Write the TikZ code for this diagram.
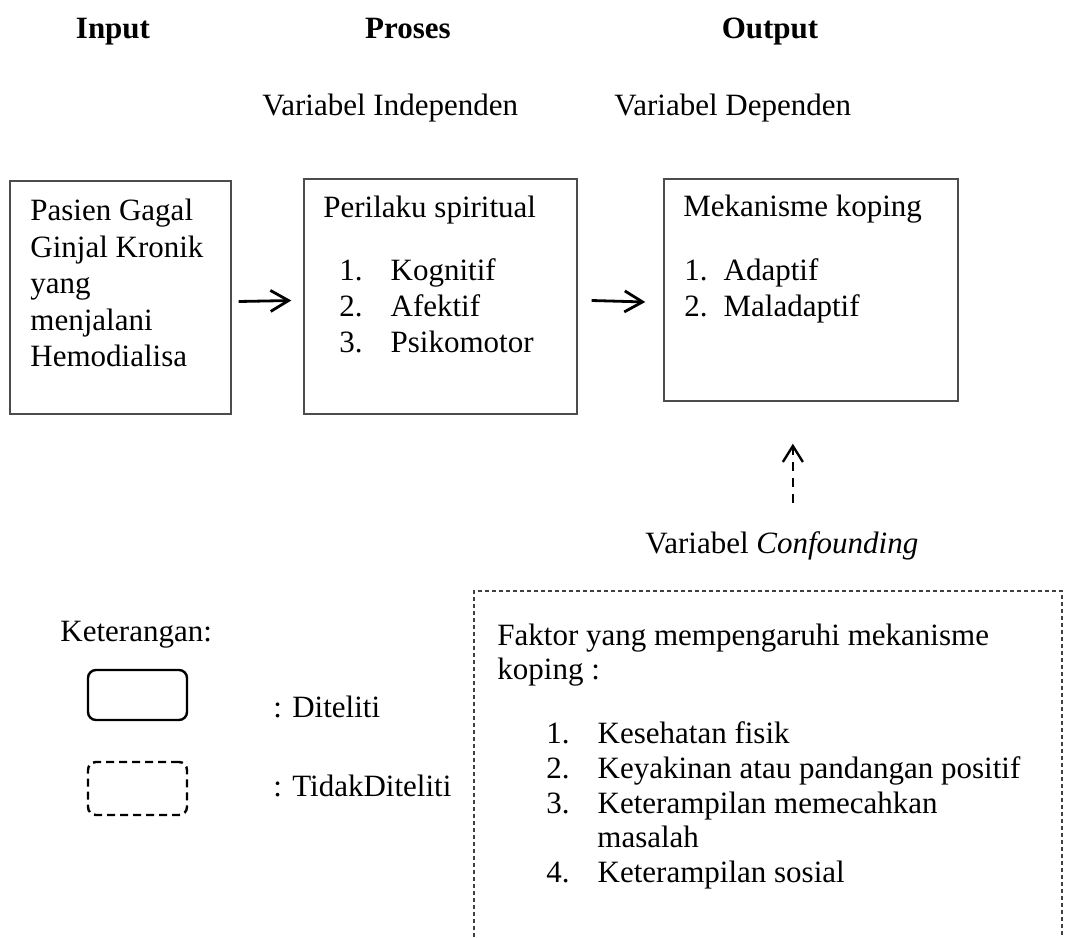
\documentclass[tikz,border=0pt]{standalone}
\usepackage{fontspec}
\setmainfont{Liberation Serif}
\usetikzlibrary{arrows.meta}
\begin{document}
\begin{tikzpicture}[
    x=0.5pt, y=-0.5pt,
    every node/.style={inner sep=0pt, font=\fontsize{15.5}{17.5}\selectfont},
    txt/.style={anchor=base west},
    judul/.style={anchor=base, font=\fontsize{15.5}{17.5}\selectfont\bfseries},
    kotak/.style={draw=black!70, line width=0.7pt},
    legenda/.style={draw, line width=1.2pt, rounded corners=4pt, minimum width=49.5pt},
    panah/.style={-{Straight Barb[length=9pt,width=10.5pt]}, line width=1.4pt},
    panahputus/.style={-{Straight Barb[length=8pt,width=10pt]}, line width=1.2pt, dash pattern=on 4.5pt off 3.5pt}
]
    \useasboundingbox (0,0) rectangle (1070,937);

    % judul kolom
    \node[judul] (input) at (113,38) {Input};
    \node[judul] (proses) at (408,38) {Proses};
    \node[judul] (output) at (770,38) {Output};
    \node[txt] (indep) at (262,115) {Variabel Independen};
    \node[txt] (dep) at (614,115) {Variabel Dependen};

    % kotak utama
    \node[kotak, minimum width=110.5pt, minimum height=116.5pt] (pasien) at (120.5,297.5) {};
    \node[kotak, minimum width=136.5pt, minimum height=117.5pt] (perilaku) at (440.5,296.5) {};
    \node[kotak, minimum width=147pt, minimum height=111pt] (koping) at (811,290) {};

    \node[txt] (p1) at (30,220) {Pasien Gagal};
    \node[txt] (p2) at (30,257) {Ginjal Kronik};
    \node[txt] (p3) at (30,293) {yang};
    \node[txt] (p4) at (30,330) {menjalani};
    \node[txt] (p5) at (30,366) {Hemodialisa};

    \node[txt] (s0) at (323,217) {Perilaku spiritual};
    \node[txt] (s1) at (339,280) {1.\hspace{14pt}Kognitif};
    \node[txt] (s2) at (339,316) {2.\hspace{14pt}Afektif};
    \node[txt] (s3) at (339,352) {3.\hspace{14pt}Psikomotor};

    \node[txt] (k0) at (683,216) {Mekanisme koping};
    \node[txt] (k1) at (684,280) {1.\hspace{8pt}Adaptif};
    \node[txt] (k2) at (684,316) {2.\hspace{8pt}Maladaptif};

    \draw[panah] ([xshift=3.5pt,yshift=-2pt]pasien.east) -- ([xshift=-6pt,yshift=-2pt]perilaku.west);
    \draw[panah] ([xshift=7pt,yshift=-2pt]perilaku.east) -- ([xshift=-9pt,yshift=-6pt]koping.west);

    % variabel confounding
    \node[txt] (conf) at (645,553) {Variabel \textit{Confounding}};
    \draw[panahputus, shorten <=14pt, shorten >=21pt] ([xshift=5.5pt]conf.north) -- ([xshift=5.5pt]conf.north |- koping.south);

    \draw[black!75, line width=0.6pt, dash pattern=on 2pt off 1.5pt]
        (474,937) -- (474,591) -- (1062,591) -- (1062,937);
    \node[txt] (f0) at (497,645) {Faktor yang mempengaruhi mekanisme};
    \node[txt] (f1) at (497,679) {koping :};
    \node[txt] (f2) at (546,743) {1.\hspace{14pt}Kesehatan fisik};
    \node[txt] (f3) at (546,778) {2.\hspace{14pt}Keyakinan atau pandangan positif};
    \node[txt] (f4) at (546,813) {3.\hspace{14pt}Keterampilan memecahkan};
    \node[txt] (f5) at (597,847) {masalah};
    \node[txt] (f6) at (546,882) {4.\hspace{14pt}Keterampilan sosial};

    % keterangan
    \node[txt] (ket) at (60,641) {Keterangan:};
    \node[legenda, minimum height=25pt] (diteliti) at (137.5,695) {};
    \node[legenda, minimum height=26.5pt, dash pattern=on 4pt off 2.5pt] (tidak) at (137.5,788.5) {};
    \node[txt] (lbl1) at (273,717) {: Diteliti};
    \node[txt] (lbl2) at (273,796) {: TidakDiteliti};
\end{tikzpicture}
\end{document}
